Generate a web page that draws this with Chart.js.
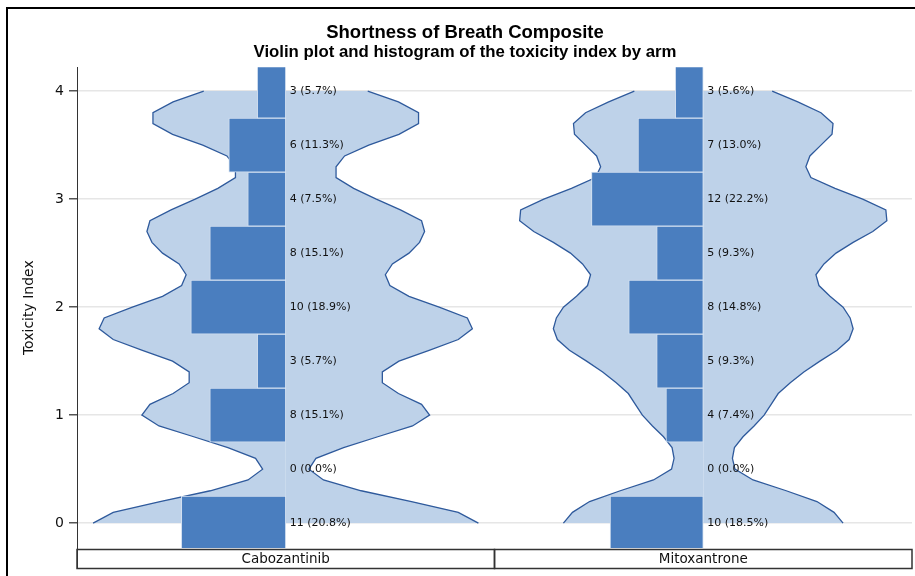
<!DOCTYPE html>
<html>
<head>
<meta charset="utf-8">
<script src="https://cdn.jsdelivr.net/npm/chart.js@4.4.1/dist/chart.umd.min.js"></script>
<style>
  html, body { margin: 0; padding: 0; background: #fff; }
  #wrap { width: 915px; height: 576px; position: relative; }
</style>
</head>
<body>
<div id="wrap"><canvas id="chart"></canvas></div>
<script>
// histogram bins (toxicity index, bin width 0.5)
const binCenters = [0, 0.5, 1, 1.5, 2, 2.5, 3, 3.5, 4];
const cabozantinibCounts = [11, 0, 8, 3, 10, 8, 4, 6, 3];
const mitoxantroneCounts = [10, 0, 4, 5, 8, 5, 12, 7, 3];

// kernel density half-widths (in percent units) on the y grid
const densityY = [0, 0.1, 0.2, 0.3, 0.4, 0.5, 0.6, 0.7, 0.8, 0.9, 1, 1.1, 1.2, 1.3, 1.4, 1.5, 1.6, 1.7, 1.8, 1.9, 2,
  2.1, 2.2, 2.3, 2.4, 2.5, 2.6, 2.7, 2.8, 2.9, 3, 3.1, 3.2, 3.3, 3.4, 3.5, 3.6, 3.7, 3.8, 3.9, 4];
const cabozantinibDensity = [38.3, 34.3, 25.0, 15.0, 7.5, 4.6, 6.0, 11.5, 18.3, 25.2, 28.6, 27.0, 22.4, 19.2, 19.2,
  22.5, 28.5, 34.3, 37.1, 36.1, 30.5, 24.5, 20.7, 19.8, 21.2, 24.5, 26.6, 27.6, 27.0, 22.8, 18.0, 13.5, 10.0, 10.0,
  11.7, 16.5, 22.5, 26.4, 26.4, 22.4, 16.3];
const mitoxantroneDensity = [27.8, 26.0, 22.6, 16.5, 9.9, 6.3, 5.8, 6.2, 7.9, 10.1, 12.1, 13.5, 14.9, 17.3, 20.0,
  23.2, 26.6, 29.0, 29.8, 29.2, 27.8, 25.2, 23.0, 22.4, 24.0, 26.4, 29.8, 33.7, 36.5, 36.3, 31.7, 26.2, 21.4, 20.4,
  21.2, 23.4, 25.6, 25.8, 23.4, 18.8, 13.7];

const armNames = ["Cabozantinib", "Mitoxantrone"];
const yTicks = [0, 1, 2, 3, 4];

const BAR_COLOR = "#4a7ebf";
const VIOLIN_FILL = "#bed2e9";
const VIOLIN_LINE = "#2f5a9c";
const LABEL_FONT = "DejaVu Sans";

// each arm gets its own panel on a shared x scale
const panelWidth = 83;
const arms = [
  { name: armNames[0], counts: cabozantinibCounts, density: cabozantinibDensity },
  { name: armNames[1], counts: mitoxantroneCounts, density: mitoxantroneDensity },
].map((arm, i) => {
  const total = arm.counts.reduce((a, b) => a + b, 0);
  return {
    ...arm,
    center: panelWidth * i + panelWidth / 2,
    lo: panelWidth * i,
    hi: panelWidth * (i + 1),
    pct: arm.counts.map((c) => (100 * c) / total),
  };
});

const datasets = [];
arms.forEach((arm) => {
  // violin outline: one half on each side, filled towards the centre line
  [-1, 1].forEach((side) => {
    datasets.push({
      type: "line",
      data: densityY.map((y, k) => ({ x: arm.center + side * arm.density[k], y })),
      borderColor: VIOLIN_LINE,
      borderWidth: 1.3,
      backgroundColor: VIOLIN_FILL,
      fill: { value: arm.center },
      pointRadius: 0,
      tension: 0,
      order: 2,
    });
  });
  datasets.push({
    type: "bar",
    data: binCenters.map((b, k) => ({ x: [arm.center - arm.pct[k], arm.center], y: b })),
    backgroundColor: BAR_COLOR,
    borderColor: "#d3e0f0",
    borderWidth: 1,
    borderSkipped: false,
    grouped: false,
    barPercentage: 1,
    categoryPercentage: 1,
    order: 1,
  });
});

const panelDecor = {
  id: "panelDecor",
  afterDatasetsDraw(chart) {
    const { ctx, scales: { x, y } } = chart;
    ctx.save();
    ctx.fillStyle = "#111";
    ctx.font = `11px "${LABEL_FONT}"`;
    ctx.textAlign = "left";
    ctx.textBaseline = "middle";
    arms.forEach((arm) => {
      const px = x.getPixelForValue(arm.center) + 4;
      binCenters.forEach((b, k) => {
        ctx.fillText(`${arm.counts[k]} (${arm.pct[k].toFixed(1)}%)`, px, y.getPixelForValue(b));
      });
    });
    ctx.restore();
  },
  afterDraw(chart) {
    const { ctx, chartArea, scales: { x } } = chart;
    ctx.save();
    // figure border
    ctx.strokeStyle = "#000";
    ctx.lineWidth = 2;
    ctx.strokeRect(7, 8, 960, 620);

    // arm strips under the panels
    const top = chartArea.bottom + 1.5;
    const h = 19;
    ctx.strokeStyle = "#333";
    ctx.lineWidth = 1.5;
    ctx.font = `13.5px "${LABEL_FONT}"`;
    ctx.textAlign = "center";
    ctx.textBaseline = "middle";
    arms.forEach((arm) => {
      const l = x.getPixelForValue(arm.lo);
      const r = x.getPixelForValue(arm.hi);
      ctx.strokeRect(l, top, r - l, h);
      ctx.fillStyle = "#111";
      ctx.fillText(arm.name, (l + r) / 2, top + h / 2 + 0.5);
    });
    // axis line runs down to the strips
    ctx.lineWidth = 1;
    ctx.beginPath();
    ctx.moveTo(chartArea.left + 0.5, chartArea.bottom);
    ctx.lineTo(chartArea.left + 0.5, top + h);
    ctx.stroke();
    ctx.restore();
  },
};

new Chart(document.getElementById("chart"), {
  type: "bar",
  data: { datasets },
  plugins: [panelDecor],
  options: {
    indexAxis: "y",
    responsive: true,
    maintainAspectRatio: false,
    animation: false,
    layout: { padding: { top: 10, right: 3, bottom: 28, left: 18 } },
    plugins: {
      legend: { display: false },
      tooltip: { enabled: false },
      title: {
        display: true,
        text: "Shortness of Breath Composite",
        color: "#000",
        font: { family: "Liberation Sans, Arial", size: 18.5, weight: "bold" },
        padding: { top: 12, bottom: 0 },
      },
      subtitle: {
        display: true,
        text: "Violin plot and histogram of the toxicity index by arm",
        color: "#000",
        font: { family: "Liberation Sans, Arial", size: 16.8, weight: "bold" },
        padding: { top: -2, bottom: 5 },
      },
    },
    scales: {
      x: {
        type: "linear",
        min: 0,
        max: panelWidth * 2,
        display: false,
      },
      y: {
        type: "linear",
        min: -0.23,
        max: 4.22,
        offset: false,
        afterFit(scale) { scale.width = 59; },
        afterBuildTicks(scale) { scale.ticks = yTicks.map((v) => ({ value: v })); },
        border: { color: "#333", width: 1 },
        grid: { offset: false, color: "#e6e6e6", lineWidth: 1.5, tickColor: "#555", tickLength: 8 },
        ticks: { color: "#111", font: { family: LABEL_FONT, size: 14 }, padding: 5 },
        title: {
          display: true,
          text: "Toxicity Index",
          color: "#111",
          font: { family: LABEL_FONT, size: 14 },
          padding: { top: 3, bottom: 0 },
        },
      },
    },
  },
});
</script>
</body>
</html>
